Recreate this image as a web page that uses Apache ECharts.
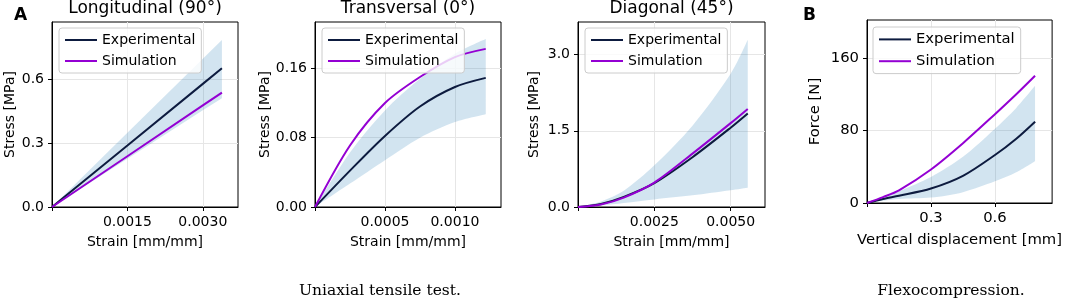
<!DOCTYPE html>
<html>
<head>
<meta charset="utf-8">
<script src="https://cdn.jsdelivr.net/npm/echarts@6/dist/echarts.min.js"></script>
<style>
html, body { margin: 0; padding: 0; background: #fff; }
#chart { width: 1065px; height: 301px; }
</style>
</head>
<body>
<div id="chart"></div>
<script>
// Longitudinal (90°)
const longStrain = [0, 0.0015, 0.003, 0.00338]
const longExp = [0, 0.288, 0.577, 0.65]
const longSim = [0, 0.238, 0.476, 0.536]
const longLow = [0, 0.226, 0.453, 0.51]
const longHigh = [0, 0.348, 0.695, 0.783]
const longXTicks = [0, 0.0015, 0.003]
const longYTicks = [0, 0.3, 0.6]

// Transversal (0°)
const transStrain = [0, 0.00025, 0.0005, 0.00075, 0.001, 0.00122]
const transExp = [0, 0.042, 0.082, 0.116, 0.1385, 0.149]
const transSim = [0, 0.071, 0.12, 0.15, 0.173, 0.1825]
const transLow = [0, 0.027, 0.054, 0.08, 0.098, 0.107]
const transHigh = [0, 0.063, 0.1115, 0.148, 0.177, 0.194]
const transXTicks = [0, 0.0005, 0.001]
const transYTicks = [0, 0.08, 0.16]

// Diagonal (45°)
const diagStrain = [0, 0.00075, 0.0015, 0.0025, 0.00375, 0.005, 0.00556]
const diagExp = [0, 0.06, 0.2, 0.47, 0.98, 1.56, 1.84]
const diagSim = [0, 0.05, 0.185, 0.48, 1.05, 1.65, 1.93]
const diagLow = [0, 0.03, 0.08, 0.15, 0.23, 0.33, 0.38]
const diagHigh = [0, 0.11, 0.32, 0.82, 1.6, 2.62, 3.29]
const diagXTicks = [0, 0.0025, 0.005]
const diagYTicks = [0, 1.5, 3]

// Flexocompression
const flexDisp = [0, 0.075, 0.15, 0.3, 0.45, 0.6, 0.7, 0.788]
const flexExp = [0, 4.5, 8, 16, 30, 53, 71, 89.8]
const flexSim = [0, 6.5, 14, 37, 66, 98, 120, 140.4]
const flexLow = [0, 2.5, 4.5, 6, 12, 24, 34, 46.2]
const flexHigh = [0, 6, 13, 28.8, 51, 82, 105, 129.3]
const flexXTicks = [0, 0.3, 0.6]
const flexYTicks = [0, 80, 160]

const font = 'DejaVu Sans'
const expColor = '#0d1b3f'
const simColor = '#9400d3'
const bandColor = 'rgba(31, 119, 180, 0.2)'

const panels = [{
  title: 'Longitudinal (90°)',
  grid: { left: 52, top: 22, width: 186, height: 185 },
  legendPos: { left: 59, top: 28 },
  fontSize: 14,
  xMax: 0.0037, yMax: 0.867, xDigits: 4, yDigits: 1,
  xName: 'Strain [mm/mm]', yName: 'Stress [MPa]', xNameGap: 28, yNameGap: 35,
  smooth: false,
  x: longStrain, exp: longExp, sim: longSim, low: longLow, high: longHigh,
  xTicks: longXTicks, yTicks: longYTicks
}, {
  title: 'Transversal (0°)',
  grid: { left: 315, top: 22, width: 186, height: 185 },
  legendPos: { left: 322, top: 28 },
  fontSize: 14,
  xMax: 0.001329, yMax: 0.2135, xDigits: 4, yDigits: 2,
  xName: 'Strain [mm/mm]', yName: 'Stress [MPa]', xNameGap: 28, yNameGap: 43,
  smooth: 0.3,
  x: transStrain, exp: transExp, sim: transSim, low: transLow, high: transHigh,
  xTicks: transXTicks, yTicks: transYTicks
}, {
  title: 'Diagonal (45°)',
  grid: { left: 578, top: 22, width: 187, height: 185 },
  legendPos: { left: 585, top: 28 },
  fontSize: 14,
  xMax: 0.006125, yMax: 3.64, xDigits: 4, yDigits: 1,
  xName: 'Strain [mm/mm]', yName: 'Stress [MPa]', xNameGap: 28, yNameGap: 37,
  smooth: 0.3,
  x: diagStrain, exp: diagExp, sim: diagSim, low: diagLow, high: diagHigh,
  xTicks: diagXTicks, yTicks: diagYTicks
}, {
  title: '',
  grid: { left: 867, top: 20, width: 189, height: 183 },
  legendPos: { left: 873, top: 27 },
  fontSize: 14.8,
  xMax: 0.868, yMax: 202, xDigits: 1, yDigits: 0,
  xName: 'Vertical displacement [mm]', yName: 'Force [N]', xNameGap: 30, yNameGap: 44,
  smooth: 0.3,
  x: flexDisp, exp: flexExp, sim: flexSim, low: flexLow, high: flexHigh,
  xTicks: flexXTicks, yTicks: flexYTicks
}]

const pairs = (xs, ys) => xs.map((x, i) => [x, ys[i]])
// y first so that the stack runs on the y dimension
const flipped = (xs, ys) => xs.map((x, i) => [ys[i], x])

const option = {
  animation: false,
  textStyle: { fontFamily: font },
  grid: [],
  xAxis: [],
  yAxis: [],
  legend: [],
  series: [],
  graphic: []
}

panels.forEach((p, i) => {
  option.grid.push({
    ...p.grid,
    show: true,
    borderColor: '#000',
    borderWidth: 1,
    backgroundColor: '#fff'
  })
  const axisCommon = {
    gridIndex: i,
    type: 'value',
    min: 0,
    nameLocation: 'middle',
    nameTextStyle: { fontFamily: font, fontSize: p.fontSize, color: '#000' },
    axisLine: { show: true, onZero: false, lineStyle: { color: '#000', width: 1 } },
    splitLine: { show: true, lineStyle: { color: '#e6e6e6', width: 1 } }
  }
  option.xAxis.push({
    ...axisCommon,
    max: p.xMax,
    name: p.xName,
    nameGap: p.xNameGap,
    axisTick: { show: true, inside: false, length: 4, customValues: p.xTicks, lineStyle: { color: '#000' } },
    axisLabel: {
      customValues: p.xTicks.filter((v) => v > 0),
      margin: 8,
      fontSize: p.fontSize,
      color: '#000',
      formatter: (v) => v.toFixed(p.xDigits)
    }
  })
  option.yAxis.push({
    ...axisCommon,
    max: p.yMax,
    name: p.yName,
    nameGap: p.yNameGap,
    axisTick: { show: true, inside: false, length: 4, customValues: p.yTicks, lineStyle: { color: '#000' } },
    axisLabel: {
      customValues: p.yTicks,
      margin: 8,
      fontSize: p.fontSize,
      color: '#000',
      formatter: (v) => v.toFixed(p.yDigits)
    }
  })
  option.legend.push({
    ...p.legendPos,
    orient: 'vertical',
    data: ['Experimental', 'Simulation'],
    selectedMode: false,
    icon: 'rect',
    padding: [4, 6, 4, 6],
    itemGap: 5,
    itemWidth: 32,
    itemHeight: 2,
    backgroundColor: 'rgba(255,255,255,0.8)',
    borderColor: '#cccccc',
    borderWidth: 1,
    borderRadius: 3,
    textStyle: { fontFamily: font, fontSize: p.fontSize, color: '#000', lineHeight: p.fontSize + 2 }
  })
  const stack = 'band' + i
  option.series.push({
    name: 'low' + i,
    type: 'line',
    xAxisIndex: i,
    yAxisIndex: i,
    stack,
    encode: { x: 1, y: 0 },
    smooth: p.smooth,
    symbol: 'none',
    lineStyle: { width: 0, opacity: 0 },
    data: flipped(p.x, p.low)
  }, {
    name: 'band' + i,
    type: 'line',
    xAxisIndex: i,
    yAxisIndex: i,
    stack,
    encode: { x: 1, y: 0 },
    smooth: p.smooth,
    symbol: 'none',
    lineStyle: { width: 0, opacity: 0 },
    areaStyle: { color: bandColor, opacity: 1 },
    data: flipped(p.x, p.high.map((h, k) => h - p.low[k]))
  }, {
    name: 'Experimental',
    type: 'line',
    xAxisIndex: i,
    yAxisIndex: i,
    smooth: p.smooth,
    symbol: 'none',
    color: expColor,
    lineStyle: { color: expColor, width: 2 },
    data: pairs(p.x, p.exp)
  }, {
    name: 'Simulation',
    type: 'line',
    xAxisIndex: i,
    yAxisIndex: i,
    smooth: p.smooth,
    symbol: 'none',
    color: simColor,
    lineStyle: { color: simColor, width: 2 },
    data: pairs(p.x, p.sim)
  })
  if (p.title) {
    option.graphic.push({
      type: 'text',
      style: {
        text: p.title,
        x: p.grid.left + p.grid.width / 2,
        y: 9,
        textAlign: 'center',
        textVerticalAlign: 'middle',
        fontFamily: font,
        fontSize: 17,
        fill: '#000'
      }
    })
  }
})

const textMark = (text, x, y, size, weight, family) => ({
  type: 'text',
  style: {
    text,
    x,
    y,
    textAlign: 'center',
    textVerticalAlign: 'middle',
    fontFamily: family,
    fontSize: size,
    fontWeight: weight,
    fill: '#000'
  }
})

option.graphic.push(
  textMark('A', 20.5, 16, 17, 'bold', font),
  textMark('B', 809.5, 16, 17, 'bold', font),
  textMark('Uniaxial tensile test.', 380, 291, 15.5, 'normal', 'DejaVu Serif'),
  textMark('Flexocompression.', 951, 291, 15.5, 'normal', 'DejaVu Serif')
)

const chart = echarts.init(document.getElementById('chart'))
chart.setOption(option)
</script>
</body>
</html>
